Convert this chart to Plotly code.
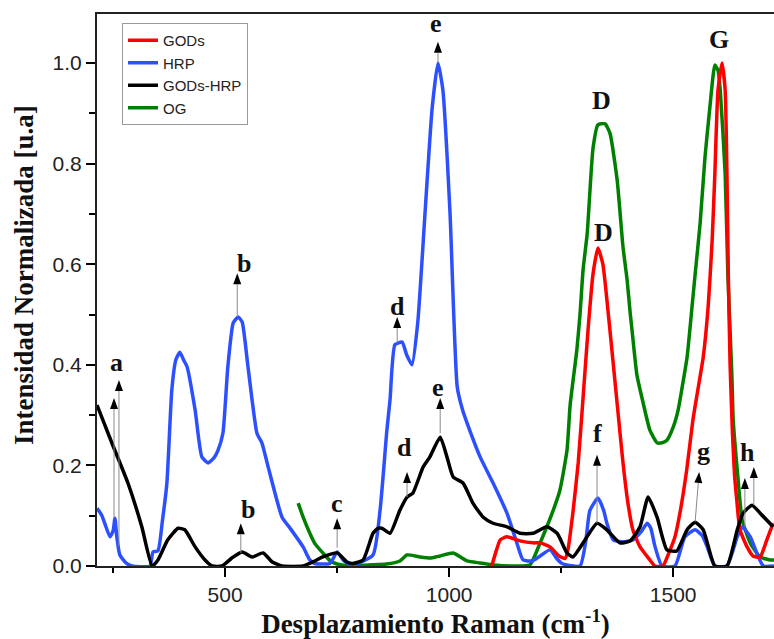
import plotly.graph_objects as go

# ---------------- data ----------------
hrp_x = [214,225,243,250,254,258,265,280,292,332,339,350,360,370,381,390,399,407,415,433,448,462,475,484,495,506,518,529,538,551,571,582,596,627,645,674,689,700,734,750,765,785,830,846,861,868,879,895,905,917,930,946,962,975,986,1002,1018,1030,1040,1069,1098,1129,1151,1165,1185,1203,1225,1240,1252,1292,1305,1314,1332,1345,1352,1366,1388,1410,1430,1442,1450,1459,1475,1504,1526,1549,1565,1576,1593,1620,1643,1654,1672,1687,1701,1725]
hrp_y = [0.115,0.10,0.058,0.07,0.095,0.06,0.022,0.005,0,0,0.028,0.03,0.09,0.165,0.35,0.41,0.425,0.41,0.396,0.31,0.217,0.205,0.215,0.23,0.264,0.396,0.483,0.495,0.485,0.396,0.264,0.245,0.197,0.097,0.075,0.038,0.012,0.005,0.005,0.028,0.01,0.002,0.022,0.113,0.27,0.33,0.44,0.445,0.42,0.40,0.485,0.70,0.91,1.0,0.946,0.70,0.356,0.31,0.284,0.217,0.165,0.105,0.046,0.012,0.01,0.02,0.032,0.015,0.005,0.0,0.05,0.11,0.135,0.11,0.085,0.052,0.048,0.052,0.07,0.085,0.075,0.04,0.0,0.0,0.058,0.072,0.06,0.038,0.0,0.0,0.058,0.078,0.058,0.025,0.0,0.0]

gh_x = [214,247,283,314,337,350,372,395,410,433,455,471,493,515,538,560,585,605,627,674,700,718,750,772,785,808,830,841,850,868,890,906,919,942,957,980,995,1009,1031,1053,1076,1098,1129,1158,1187,1218,1241,1263,1276,1299,1330,1352,1381,1404,1426,1444,1464,1486,1508,1531,1549,1567,1593,1620,1643,1656,1676,1694,1723]
gh_y = [0.32,0.245,0.165,0.078,0.0,0.012,0.052,0.075,0.072,0.038,0.012,0.0,0.0,0.016,0.028,0.018,0.026,0.008,0.0,0.0,0.01,0.018,0.026,0.008,0.005,0.012,0.065,0.075,0.075,0.065,0.111,0.137,0.145,0.197,0.217,0.256,0.217,0.177,0.165,0.125,0.097,0.085,0.078,0.065,0.065,0.078,0.065,0.026,0.018,0.046,0.085,0.072,0.046,0.05,0.078,0.137,0.097,0.032,0.03,0.072,0.087,0.072,0.0,0.0,0.072,0.105,0.121,0.105,0.078]

gods_x = [1095,1105,1114,1129,1158,1187,1203,1225,1245,1259,1265,1276,1288,1299,1310,1321,1332,1343,1355,1366,1377,1388,1399,1410,1426,1448,1459,1477,1490,1504,1515,1530,1544,1555,1567,1578,1587,1593,1600,1609,1616,1620,1623,1627,1632,1637,1642,1649,1665,1678,1694,1709,1723]
gods_y = [0.0,0.03,0.052,0.058,0.05,0.046,0.046,0.038,0.02,0.015,0.032,0.105,0.205,0.336,0.47,0.58,0.632,0.60,0.503,0.404,0.304,0.205,0.125,0.072,0.038,0.012,0.0,0.0,0.025,0.058,0.105,0.19,0.29,0.35,0.415,0.515,0.648,0.78,0.946,1.0,0.946,0.78,0.58,0.40,0.27,0.18,0.13,0.072,0.038,0.02,0.018,0.052,0.085]

og_x = [663,675,689,700,718,735,750,779,820,860,890,906,935,960,980,1009,1040,1069,1100,1150,1180,1203,1218,1232,1247,1263,1270,1285,1292,1299,1308,1321,1332,1348,1359,1375,1388,1397,1404,1408,1419,1433,1448,1464,1475,1486,1500,1511,1519,1531,1542,1549,1560,1571,1582,1593,1600,1605,1616,1622,1631,1634,1645,1654,1672,1694,1716,1725]
og_y = [0.125,0.095,0.065,0.045,0.026,0.01,0.004,0.0,0.002,0.004,0.01,0.022,0.018,0.016,0.02,0.026,0.01,0.006,0.002,0.0,0.002,0.046,0.078,0.11,0.15,0.23,0.32,0.43,0.50,0.59,0.66,0.83,0.877,0.879,0.86,0.767,0.634,0.57,0.503,0.47,0.38,0.324,0.27,0.245,0.245,0.25,0.276,0.31,0.35,0.415,0.515,0.58,0.68,0.813,0.913,0.996,0.985,0.946,0.78,0.58,0.38,0.29,0.171,0.091,0.046,0.018,0.012,0.012]

# peak labels: text, x, y
label_text = ["a", "b", "b", "c", "d", "d", "e", "e", "D", "D", "f", "g", "h", "G"]
label_x    = [257, 542, 551, 750, 884, 901, 971, 975, 1341, 1345, 1332, 1567, 1665, 1602]
label_y    = [0.404, 0.602, 0.113, 0.125, 0.515, 0.235, 1.078, 0.354, 0.926, 0.664, 0.264, 0.227, 0.225, 1.046]

# arrows: tail (x, y) -> tip (x, y)
arrow_x0 = [252, 263, 527, 535, 750, 884, 906, 975, 980, 1330, 1549, 1660, 1680]
arrow_y0 = [0.097, 0.04, 0.495, 0.026, 0.036, 0.443, 0.137, 1.0, 0.264, 0.085, 0.088, 0.078, 0.121]
arrow_x1 = [252, 263, 527, 535, 750, 884, 906, 975, 980, 1330, 1558, 1660, 1680]
arrow_y1 = [0.334, 0.37, 0.582, 0.085, 0.095, 0.495, 0.187, 1.042, 0.334, 0.221, 0.187, 0.175, 0.197]

x_range = [214, 1725]
y_range = [0, 1.0974]

# ---------------- figure ----------------
W, H = 774, 639
ML, MR, MT, MB = 97, 0, 14, 73

fig = go.Figure()
series = [
    ("OG", og_x, og_y, "#008000", 4),
    ("HRP", hrp_x, hrp_y, "#2D50FF", 2),
    ("GODs", gods_x, gods_y, "#FF0000", 1),
    ("GODs-HRP", gh_x, gh_y, "#000000", 3),
]
for name, xs, ys, col, rank in series:
    fig.add_trace(go.Scatter(x=xs, y=ys, mode="lines", name=name, legendrank=rank,
                             line=dict(color=col, width=3.5, shape="spline", smoothing=0.5)))

# pixel scale for arrowhead geometry
px_per_x = (W - ML - MR) / (x_range[1] - x_range[0])
px_per_y = (H - MT - MB) / (y_range[1] - y_range[0])

HEAD_LEN, HEAD_HALF = 11, 4
shapes = []
for x0, y0, x1, y1 in zip(arrow_x0, arrow_y0, arrow_x1, arrow_y1):
    dx = (x1 - x0) * px_per_x
    dy = (y1 - y0) * px_per_y
    n = (dx * dx + dy * dy) ** 0.5
    ux, uy = dx / n, dy / n
    bx, by = -ux * HEAD_LEN, -uy * HEAD_LEN          # base centre offset (px)
    px_, py_ = -uy * HEAD_HALF, ux * HEAD_HALF       # perpendicular (px)
    def to_data(ox, oy):
        return x1 + ox / px_per_x, y1 + oy / px_per_y
    bcx, bcy = to_data(bx, by)
    shapes.append(dict(type="line", xref="x", yref="y", x0=x0, y0=y0, x1=bcx, y1=bcy,
                       line=dict(color="#8a8a8a", width=1)))
    p1 = to_data(bx + px_, by + py_)
    p2 = to_data(bx - px_, by - py_)
    path = f"M {x1},{y1} L {p1[0]},{p1[1]} L {p2[0]},{p2[1]} Z"
    shapes.append(dict(type="path", xref="x", yref="y", path=path,
                       fillcolor="#000", line=dict(width=0)))

annotations = []
for t, x, y in zip(label_text, label_x, label_y):
    annotations.append(dict(x=x, y=y, xref="x", yref="y", text=t, showarrow=False,
                            font=dict(family="Liberation Serif", size=26, color="#111",
                                      weight="bold"),
                            xanchor="center", yanchor="middle"))

annotations.append(dict(x=(24 - ML) / (W - ML - MR), y=(H - MB - 275) / (H - MT - MB),
                        xref="paper", yref="paper", text="Intensidad Normalizada [u.a]",
                        showarrow=False, textangle=-90,
                        font=dict(family="Liberation Serif", size=27, color="#111",
                                  weight="bold"),
                        xanchor="center", yanchor="middle"))

tick_font = dict(family="Liberation Sans", size=21, color="#222")

fig.update_layout(
    width=W, height=H,
    margin=dict(l=ML, r=MR, t=MT, b=MB),
    paper_bgcolor="white", plot_bgcolor="white",
    shapes=shapes, annotations=annotations,
    showlegend=True,
    legend=dict(x=(122 - ML) / (W - ML - MR), y=(H - MB - 23) / (H - MT - MB),
                xanchor="left", yanchor="top",
                bgcolor="white", bordercolor="#999", borderwidth=1,
                font=dict(family="Liberation Sans", size=15, color="#222"),
                tracegroupgap=0),
    xaxis=dict(range=x_range, tickvals=[500, 1000, 1500], ticks="outside", ticklen=9,
               tickwidth=1.5, tickcolor="#000", showline=True, linewidth=2,
               linecolor="#222", mirror=True, showgrid=False, zeroline=False,
               tickfont=tick_font,
               minor=dict(tickvals=[250, 750, 1250], ticks="outside", ticklen=5,
                          tickwidth=1.5, tickcolor="#000"),
               title=dict(text="Desplazamiento Raman (cm<sup>-1</sup>)", standoff=3,
                          font=dict(family="Liberation Serif", size=27, color="#111",
                                    weight="bold"))),
    yaxis=dict(range=y_range, tickvals=[0, 0.2, 0.4, 0.6, 0.8, 1.0], tickformat=".1f",
               ticks="outside", ticklen=9, tickwidth=1.5, tickcolor="#000",
               showline=True, linewidth=2, linecolor="#222", mirror=False,
               showgrid=False, zeroline=False, tickfont=tick_font,
               minor=dict(tickvals=[0.1, 0.3, 0.5, 0.7, 0.9], ticks="outside", ticklen=6,
                          tickwidth=1.5, tickcolor="#000")),
)

fig.write_html("out.html")
